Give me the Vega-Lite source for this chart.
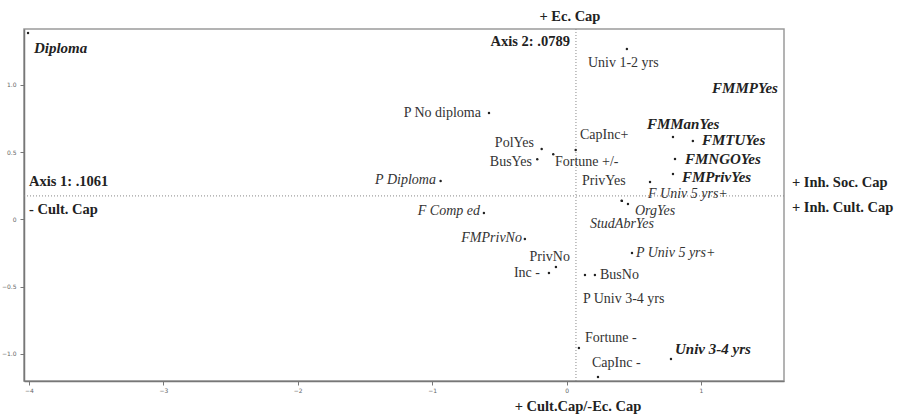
{
  "$schema": "https://vega.github.io/schema/vega-lite/v6.json",
  "width": 760,
  "height": 352,
  "autosize": {"type": "none"},
  "padding": {"left": 24, "top": 29, "right": 113, "bottom": 34},
  "background": "white",
  "config": {
    "view": {"stroke": "#9a9a9a", "strokeWidth": 1.5},
    "axis": {"grid": false, "title": null, "labelFont": "DejaVu Sans", "labelFontSize": 6, "labelColor": "#666", "tickColor": "#777", "tickSize": 4, "domainColor": "#777", "domainWidth": 1.5},
    "text": {"font": "Liberation Serif", "baseline": "middle"}
  },
  "datasets": {
    "centre": [{"x0": 0.07, "y0": 0.175}],
    "points": [
      {"name": "Diploma", "x": -4.007, "y": 1.387, "lx": -3.963, "ly": 1.275, "kind": "bolditalic", "side": "start"},
      {"name": "Univ 1-2 yrs", "x": 0.449, "y": 1.268, "lx": 0.159, "ly": 1.164, "kind": "plain", "side": "start"},
      {"name": "FMMPYes", "x": 1.66, "y": 0.98, "lx": 1.573, "ly": 0.978, "kind": "bolditalic", "side": "end"},
      {"name": "P No diploma", "x": -0.577, "y": 0.792, "lx": -0.637, "ly": 0.792, "kind": "plain", "side": "end"},
      {"name": "CapInc+", "x": 0.068, "y": 0.517, "lx": 0.10, "ly": 0.628, "kind": "plain", "side": "start"},
      {"name": "PolYes", "x": -0.185, "y": 0.524, "lx": -0.243, "ly": 0.569, "kind": "plain", "side": "end"},
      {"name": "BusYes", "x": -0.218, "y": 0.448, "lx": -0.257, "ly": 0.428, "kind": "plain", "side": "end"},
      {"name": "Fortune +/-", "x": -0.099, "y": 0.485, "lx": -0.086, "ly": 0.428, "kind": "plain", "side": "start"},
      {"name": "FMManYes", "x": 0.792, "y": 0.613, "lx": 0.598, "ly": 0.71, "kind": "bolditalic", "side": "start"},
      {"name": "FMTUYes", "x": 0.94, "y": 0.583, "lx": 1.007, "ly": 0.59, "kind": "bolditalic", "side": "start"},
      {"name": "FMNGOYes", "x": 0.807, "y": 0.449, "lx": 0.881, "ly": 0.449, "kind": "bolditalic", "side": "start"},
      {"name": "FMPrivYes", "x": 0.792, "y": 0.338, "lx": 0.859, "ly": 0.316, "kind": "bolditalic", "side": "start"},
      {"name": "PrivYes", "x": 0.621, "y": 0.279, "lx": 0.115, "ly": 0.286, "kind": "plain", "side": "start"},
      {"name": "F Univ 5 yrs+", "x": 0.41, "y": 0.14, "lx": 0.606, "ly": 0.19, "kind": "italic", "side": "start"},
      {"name": "OrgYes", "x": 0.457, "y": 0.115, "lx": 0.509, "ly": 0.066, "kind": "italic", "side": "start"},
      {"name": "StudAbrYes", "x": 0.412, "y": 0.138, "lx": 0.174, "ly": -0.036, "kind": "italic", "side": "start"},
      {"name": "P Diploma", "x": -0.937, "y": 0.286, "lx": -0.972, "ly": 0.294, "kind": "italic", "side": "end"},
      {"name": "F Comp ed", "x": -0.615, "y": 0.048, "lx": -0.644, "ly": 0.063, "kind": "italic", "side": "end"},
      {"name": "FMPrivNo", "x": -0.31, "y": -0.145, "lx": -0.332, "ly": -0.138, "kind": "italic", "side": "end"},
      {"name": "PrivNo", "x": -0.079, "y": -0.353, "lx": 0.025, "ly": -0.279, "kind": "plain", "side": "end"},
      {"name": "Inc -", "x": -0.131, "y": -0.398, "lx": -0.198, "ly": -0.398, "kind": "plain", "side": "end"},
      {"name": "BusNo", "x": 0.211, "y": -0.413, "lx": 0.249, "ly": -0.413, "kind": "plain", "side": "start"},
      {"name": "P Univ 3-4 yrs", "x": 0.137, "y": -0.413, "lx": 0.122, "ly": -0.591, "kind": "plain", "side": "start"},
      {"name": "P Univ 5 yrs+", "x": 0.487, "y": -0.249, "lx": 0.516, "ly": -0.249, "kind": "italic", "side": "start"},
      {"name": "Fortune -", "x": 0.092, "y": -0.955, "lx": 0.137, "ly": -0.881, "kind": "plain", "side": "start"},
      {"name": "CapInc -", "x": 0.234, "y": -1.171, "lx": 0.189, "ly": -1.067, "kind": "plain", "side": "start"},
      {"name": "Univ 3-4 yrs", "x": 0.777, "y": -1.037, "lx": 0.807, "ly": -0.963, "kind": "bolditalic", "side": "start"}
    ],
    "notes": [
      {"text": "Axis 2: .0789", "lx": 0.025, "ly": 1.32, "side": "end"},
      {"text": "Axis 1: .1061", "lx": -4.0, "ly": 0.279, "side": "start"},
      {"text": "- Cult. Cap", "lx": -4.0, "ly": 0.071, "side": "start"},
      {"text": "+ Ec. Cap", "lx": 0.025, "ly": 1.506, "side": "middle"},
      {"text": "+ Inh. Soc. Cap", "lx": 1.677, "ly": 0.271, "side": "start"},
      {"text": "+ Inh. Cult. Cap", "lx": 1.677, "ly": 0.086, "side": "start"},
      {"text": "+ Cult.Cap/-Ec. Cap", "lx": 0.085, "ly": -1.394, "side": "middle"}
    ]
  },
  "layer": [
    {
      "data": {"name": "centre"},
      "mark": {"type": "rule", "color": "#888", "strokeWidth": 1, "strokeDash": [1, 2]},
      "encoding": {
        "y": {"field": "y0", "type": "quantitative", "scale": {"domain": [-1.201, 1.416], "nice": false, "zero": false},
              "axis": {"values": [-1, -0.5, 0, 0.5, 1], "labelPadding": 4, "labelExpr": "datum.value == 0 ? '0' : format(datum.value, '.1f')"}}
      }
    },
    {
      "data": {"name": "centre"},
      "mark": {"type": "rule", "color": "#888", "strokeWidth": 1, "strokeDash": [1, 2]},
      "encoding": {
        "x": {"field": "x0", "type": "quantitative", "scale": {"domain": [-4.037, 1.618], "nice": false, "zero": false},
              "axis": {"values": [-4, -3, -2, -1, 0, 1], "labelPadding": 2, "format": "d"}}
      }
    },
    {
      "data": {"name": "points"},
      "mark": {"type": "circle", "size": 6, "color": "#222", "opacity": 1, "clip": true},
      "encoding": {
        "x": {"field": "x", "type": "quantitative", "scale": {"domain": [-4.037, 1.618], "nice": false, "zero": false}},
        "y": {"field": "y", "type": "quantitative", "scale": {"domain": [-1.201, 1.416], "nice": false, "zero": false}}
      }
    },
    {
      "data": {"name": "points"},
      "transform": [{"filter": "datum.kind == 'plain' && datum.side == 'start'"}],
      "mark": {"type": "text", "align": "left", "fontSize": 14, "color": "#333"},
      "encoding": {
        "x": {"field": "lx", "type": "quantitative", "scale": {"domain": [-4.037, 1.618], "nice": false, "zero": false}},
        "y": {"field": "ly", "type": "quantitative", "scale": {"domain": [-1.201, 1.416], "nice": false, "zero": false}},
        "text": {"field": "name"}
      }
    },
    {
      "data": {"name": "points"},
      "transform": [{"filter": "datum.kind == 'plain' && datum.side == 'end'"}],
      "mark": {"type": "text", "align": "right", "fontSize": 14, "color": "#333"},
      "encoding": {
        "x": {"field": "lx", "type": "quantitative", "scale": {"domain": [-4.037, 1.618], "nice": false, "zero": false}},
        "y": {"field": "ly", "type": "quantitative", "scale": {"domain": [-1.201, 1.416], "nice": false, "zero": false}},
        "text": {"field": "name"}
      }
    },
    {
      "data": {"name": "points"},
      "transform": [{"filter": "datum.kind == 'italic' && datum.side == 'start'"}],
      "mark": {"type": "text", "align": "left", "fontSize": 14, "fontStyle": "italic", "color": "#333"},
      "encoding": {
        "x": {"field": "lx", "type": "quantitative", "scale": {"domain": [-4.037, 1.618], "nice": false, "zero": false}},
        "y": {"field": "ly", "type": "quantitative", "scale": {"domain": [-1.201, 1.416], "nice": false, "zero": false}},
        "text": {"field": "name"}
      }
    },
    {
      "data": {"name": "points"},
      "transform": [{"filter": "datum.kind == 'italic' && datum.side == 'end'"}],
      "mark": {"type": "text", "align": "right", "fontSize": 14, "fontStyle": "italic", "color": "#333"},
      "encoding": {
        "x": {"field": "lx", "type": "quantitative", "scale": {"domain": [-4.037, 1.618], "nice": false, "zero": false}},
        "y": {"field": "ly", "type": "quantitative", "scale": {"domain": [-1.201, 1.416], "nice": false, "zero": false}},
        "text": {"field": "name"}
      }
    },
    {
      "data": {"name": "points"},
      "transform": [{"filter": "datum.kind == 'bolditalic' && datum.side == 'start'"}],
      "mark": {"type": "text", "align": "left", "fontSize": 15, "fontStyle": "italic", "fontWeight": "bold", "color": "#222"},
      "encoding": {
        "x": {"field": "lx", "type": "quantitative", "scale": {"domain": [-4.037, 1.618], "nice": false, "zero": false}},
        "y": {"field": "ly", "type": "quantitative", "scale": {"domain": [-1.201, 1.416], "nice": false, "zero": false}},
        "text": {"field": "name"}
      }
    },
    {
      "data": {"name": "points"},
      "transform": [{"filter": "datum.kind == 'bolditalic' && datum.side == 'end'"}],
      "mark": {"type": "text", "align": "right", "fontSize": 15, "fontStyle": "italic", "fontWeight": "bold", "color": "#222"},
      "encoding": {
        "x": {"field": "lx", "type": "quantitative", "scale": {"domain": [-4.037, 1.618], "nice": false, "zero": false}},
        "y": {"field": "ly", "type": "quantitative", "scale": {"domain": [-1.201, 1.416], "nice": false, "zero": false}},
        "text": {"field": "name"}
      }
    },
    {
      "data": {"name": "notes"},
      "transform": [{"filter": "datum.side == 'start'"}],
      "mark": {"type": "text", "align": "left", "fontSize": 14.5, "fontWeight": "bold", "color": "#222"},
      "encoding": {
        "x": {"field": "lx", "type": "quantitative", "scale": {"domain": [-4.037, 1.618], "nice": false, "zero": false}},
        "y": {"field": "ly", "type": "quantitative", "scale": {"domain": [-1.201, 1.416], "nice": false, "zero": false}},
        "text": {"field": "text"}
      }
    },
    {
      "data": {"name": "notes"},
      "transform": [{"filter": "datum.side == 'end'"}],
      "mark": {"type": "text", "align": "right", "fontSize": 14.5, "fontWeight": "bold", "color": "#222"},
      "encoding": {
        "x": {"field": "lx", "type": "quantitative", "scale": {"domain": [-4.037, 1.618], "nice": false, "zero": false}},
        "y": {"field": "ly", "type": "quantitative", "scale": {"domain": [-1.201, 1.416], "nice": false, "zero": false}},
        "text": {"field": "text"}
      }
    },
    {
      "data": {"name": "notes"},
      "transform": [{"filter": "datum.side == 'middle'"}],
      "mark": {"type": "text", "align": "center", "fontSize": 14.5, "fontWeight": "bold", "color": "#222"},
      "encoding": {
        "x": {"field": "lx", "type": "quantitative", "scale": {"domain": [-4.037, 1.618], "nice": false, "zero": false}},
        "y": {"field": "ly", "type": "quantitative", "scale": {"domain": [-1.201, 1.416], "nice": false, "zero": false}},
        "text": {"field": "text"}
      }
    }
  ]
}
